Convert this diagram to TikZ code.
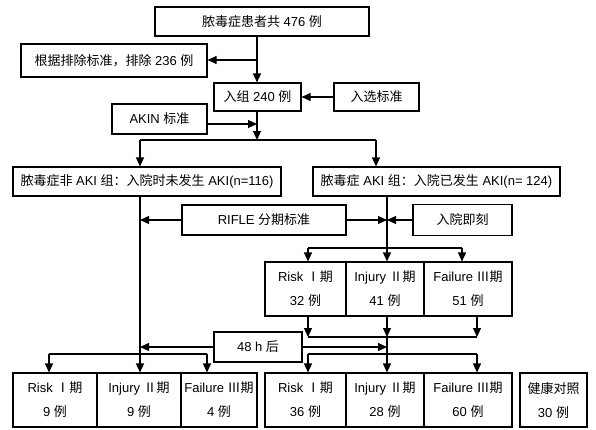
\documentclass[tikz,border=0pt]{standalone}
\usepackage{fontspec}
\setmainfont{Liberation Sans}
\newfontfamily\zhfont{Noto Sans CJK SC}
\newcommand{\zh}[1]{{\zhfont #1}}
\usetikzlibrary{arrows.meta}
\begin{document}
\begin{tikzpicture}[x=1pt,y=-1pt,
  box/.style={draw, line width=1.1pt, inner sep=0pt, align=center, font=\fontsize{13}{24}\selectfont},
  ln/.style={line width=1.1pt},
  arr/.style={line width=1.1pt, -{Triangle[length=9pt,width=8pt]}}]
\useasboundingbox (0,0) rectangle (596,429);
% boxes
\node[box,minimum width=214pt,minimum height=29pt] (top) at (262,21.5) {\zh{脓毒症患者共} 476 \zh{例}};
\node[box,minimum width=186pt,minimum height=33pt] (excl) at (114,60.5) {\zh{根据排除标准，排除} 236 \zh{例}};
\node[box,minimum width=87pt,minimum height=28pt] (inzu) at (257.5,97) {\zh{入组} 240 \zh{例}};
\node[box,minimum width=85pt,minimum height=28pt] (sel) at (376.5,97) {\zh{入选标准}};
\node[box,minimum width=95pt,minimum height=30pt] (akin) at (159.5,119) {AKIN \zh{标准}};
\node[box,minimum width=268pt,minimum height=29pt] (grpL) at (147,181.5) {\zh{脓毒症非} AKI \zh{组：入院时未发生} AKI(n=116)};
\node[box,minimum width=247pt,minimum height=29pt] (grpR) at (436.5,181.5) {\zh{脓毒症} AKI \zh{组：入院已发生} AKI(n= 124)};
\node[box,minimum width=164pt,minimum height=30pt] (rifle) at (264,220) {RIFLE \zh{分期标准}};
\node[box,minimum width=99pt,minimum height=31pt] (immed) at (462.5,220) {\zh{入院即刻}};
% middle row
\node[box,minimum width=81pt,minimum height=54pt] (mR1) at (305.5,289) {Risk \zh{Ⅰ期}\\32 \zh{例}};
\node[box,minimum width=78pt,minimum height=54pt] (mR2) at (385,289) {Injury \zh{Ⅱ期}\\41 \zh{例}};
\node[box,minimum width=88pt,minimum height=54pt] (mR3) at (468,289) {Failure \zh{Ⅲ期}\\51 \zh{例}};
\node[box,minimum width=88pt,minimum height=30pt] (h48) at (258,347) {48 h \zh{后}};
% bottom row
\node[box,minimum width=84pt,minimum height=54pt] (bL1) at (55,400) {Risk \zh{Ⅰ期}\\9 \zh{例}};
\node[box,minimum width=84pt,minimum height=54pt] (bL2) at (139,400) {Injury \zh{Ⅱ期}\\9 \zh{例}};
\node[box,minimum width=76pt,minimum height=54pt] (bL3) at (219,400) {Failure \zh{Ⅲ期}\\4 \zh{例}};
\node[box,minimum width=81pt,minimum height=54pt] (bR1) at (305.5,400) {Risk \zh{Ⅰ期}\\36 \zh{例}};
\node[box,minimum width=78pt,minimum height=54pt] (bR2) at (385,400) {Injury \zh{Ⅱ期}\\28 \zh{例}};
\node[box,minimum width=88pt,minimum height=54pt] (bR3) at (468,400) {Failure \zh{Ⅲ期}\\60 \zh{例}};
\node[box,minimum width=67pt,minimum height=54pt] (ctrl) at (553.5,400) {\zh{健康对照}\\30 \zh{例}};
% coordinates
\coordinate (a1) at (257,60);
\coordinate (a2) at (257,124);
\coordinate (a3) at (257,140);
\coordinate (bl) at (140,140);
\coordinate (br) at (376,140);
\coordinate (R) at (387,200);
\coordinate (m1) at (308,248);
\coordinate (m3) at (462,248);
\coordinate (n1) at (308,337);
\coordinate (n3) at (477,337);
\coordinate (p1) at (308,354);
\coordinate (p3) at (477,354);
\coordinate (q1) at (49,354);
\coordinate (q3) at (207,354);
% connectors
\draw[ln] (top.south -| a1) -- (a1);
\draw[arr] (a1) -- (excl.east |- a1);
\draw[arr] (a1) -- (inzu.north -| a1);
\draw[arr] (sel.west) -- (inzu.east);
\draw[arr] (inzu.south -| a3) -- (a3);
\draw[arr] (akin.east |- a2) -- (a2);
\draw[ln] (bl) -- (br);
\draw[arr] (bl) -- (grpL.north -| bl);
\draw[arr] (br) -- (grpR.north -| br);
\draw[arr] (grpL.south -| bl) -- (bL2.north -| bl);
\draw[arr] (rifle.west) -- (rifle.west -| bl);
\draw[arr] (rifle.east) -- (rifle.east -| R);
\draw[arr] (immed.west) -- (immed.west -| R);
\draw[arr] (grpR.south -| R) -- (mR2.north -| R);
\draw[ln] (m1) -- (m3);
\draw[arr] (m1) -- (mR1.north -| m1);
\draw[arr] (m3) -- (mR3.north -| m3);
\draw[ln] (n1) -- (n3);
\draw[arr] (mR1.south -| n1) -- (n1);
\draw[arr] (mR2.south -| R) -- (n1 -| R);
\draw[arr] (mR3.south -| n3) -- (n3);
\draw[arr] (n1 -| R) -- (bR2.north -| R);
\draw[arr] (h48.east) -- (h48.east -| R);
\draw[arr] (h48.west) -- (h48.west -| bl);
\draw[ln] (p1) -- (p3);
\draw[arr] (p1) -- (bR1.north -| p1);
\draw[arr] (p3) -- (bR3.north -| p3);
\draw[ln] (q1) -- (q3);
\draw[arr] (q1) -- (bL1.north -| q1);
\draw[arr] (q3) -- (bL3.north -| q3);
\end{tikzpicture}
\end{document}
